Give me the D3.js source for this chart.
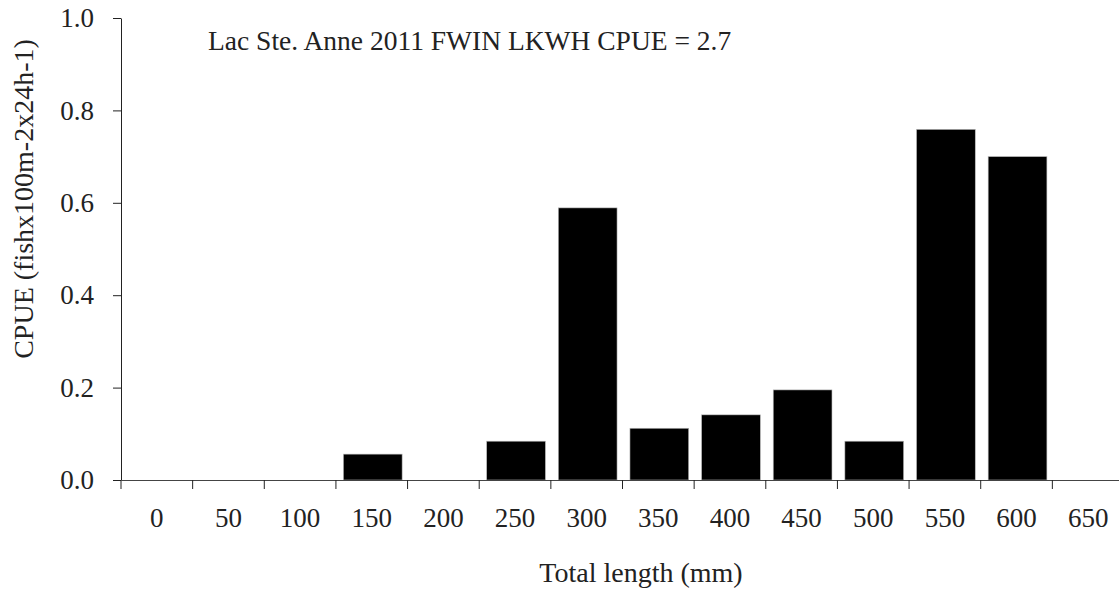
<!DOCTYPE html>
<html>
<head>
<meta charset="utf-8">
<script src="https://cdn.jsdelivr.net/npm/d3@7"></script>
<style>
  body { margin: 0; background: #fff; }
  text { font-family: "Liberation Serif", "DejaVu Serif", serif; fill: #222; }
</style>
</head>
<body>
<script>
// length classes (mm) and CPUE per class
const lengthClasses = ['0', '50', '100', '150', '200', '250', '300', '350', '400', '450', '500', '550', '600', '650'];
const cpue = [0, 0, 0, 0.056, 0, 0.084, 0.589, 0.112, 0.141, 0.195, 0.084, 0.759, 0.700, 0];
const yTicks = [0, 0.2, 0.4, 0.6, 0.8, 1.0];
const titleText = 'Lac Ste. Anne 2011 FWIN LKWH CPUE = 2.7';

const width = 1119, height = 594;
const plotLeft = 121, plotRight = 1124, plotTop = 18, plotBottom = 480;

const svg = d3.select('body').append('svg')
  .attr('width', width)
  .attr('height', height);

const x = d3.scaleBand().domain(lengthClasses).range([plotLeft, plotRight]).padding(0);
const y = d3.scaleLinear().domain([0, 1]).range([plotBottom, plotTop]);

const data = lengthClasses.map((c, i) => ({ name: c, value: cpue[i] }));

// bars
const inset = x.bandwidth() * 0.09;
svg.selectAll('.bar')
  .data(data.filter(d => d.value > 0))
  .enter().append('rect')
  .attr('class', 'bar')
  .attr('x', d => x(d.name) + inset + 1)
  .attr('width', x.bandwidth() - 2 * inset)
  .attr('y', d => y(d.value))
  .attr('height', d => y(0) - y(d.value))
  .attr('fill', '#000')
  .attr('stroke', '#bbb')
  .attr('stroke-width', 0.6);

// y axis
const yAxis = svg.append('g')
  .attr('transform', 'translate(' + plotLeft + ',0)')
  .call(d3.axisLeft(y).tickValues(yTicks).tickFormat(d3.format('.1f')).tickSize(8).tickSizeOuter(0));
yAxis.select('.domain').attr('stroke', '#222');
yAxis.selectAll('.tick line').attr('stroke', '#222');
yAxis.selectAll('.tick text').attr('x', -27).attr('font-size', 27).style('fill', '#222');

// x axis: labels centered in classes, ticks on class boundaries
const xAxis = svg.append('g')
  .attr('transform', 'translate(0,' + plotBottom + ')')
  .call(d3.axisBottom(x).tickSize(0).tickSizeOuter(0));
xAxis.select('.domain').attr('stroke', '#444');
xAxis.selectAll('.tick text').attr('y', 47).attr('dy', 0).attr('font-size', 27).style('fill', '#222');

xAxis.selectAll('.bound')
  .data(lengthClasses)
  .enter().append('line')
  .attr('class', 'bound')
  .attr('x1', d => x(d)).attr('x2', d => x(d))
  .attr('y1', 0).attr('y2', 9)
  .attr('stroke', '#222');

// title inside plot
svg.append('text')
  .attr('x', 208)
  .attr('y', 50)
  .attr('font-size', 27.5)
  .text(titleText);

// axis titles
svg.append('text')
  .attr('x', 641)
  .attr('y', 582)
  .attr('text-anchor', 'middle')
  .attr('font-size', 28)
  .text('Total length (mm)');

svg.append('text')
  .attr('transform', 'translate(33,199) rotate(-90)')
  .attr('text-anchor', 'middle')
  .attr('font-size', 28)
  .text('CPUE (fishx100m-2x24h-1)');
</script>
</body>
</html>
